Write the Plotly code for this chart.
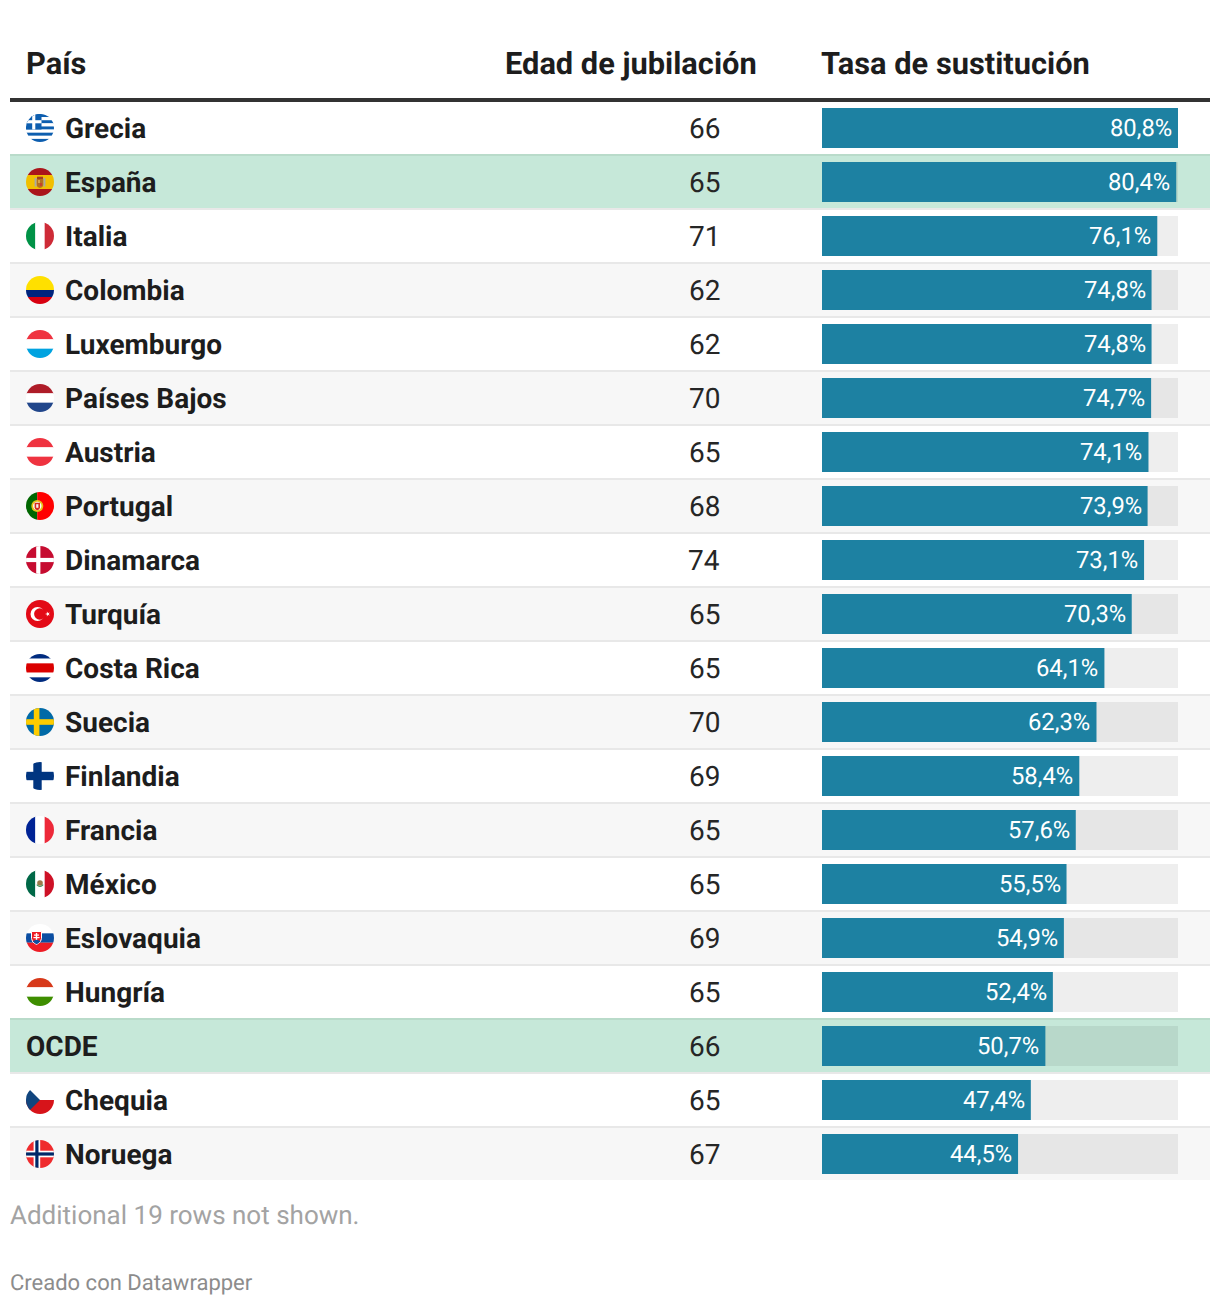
import base64
import plotly.graph_objects as go

paises = ["Grecia", "España", "Italia", "Colombia", "Luxemburgo", "Países Bajos", "Austria",
          "Portugal", "Dinamarca", "Turquía", "Costa Rica", "Suecia", "Finlandia", "Francia",
          "México", "Eslovaquia", "Hungría", "OCDE", "Chequia", "Noruega"]
edad = [66, 65, 71, 62, 62, 70, 65, 68, 74, 65, 65, 70, 69, 65, 65, 69, 65, 66, 65, 67]
tasa = [80.8, 80.4, 76.1, 74.8, 74.8, 74.7, 74.1, 73.9, 73.1, 70.3, 64.1, 62.3, 58.4, 57.6,
        55.5, 54.9, 52.4, 50.7, 47.4, 44.5]
destacados = ["España", "OCDE"]
columnas = ["País", "Edad de jubilación", "Tasa de sustitución"]
nota = "Additional 19 rows not shown."
credito = "Creado con Datawrapper"

W, H = 1220, 1306
FONT = "Roboto, sans-serif"
INK = "#1d1d1d"
ROW_H = 54
TOP = 101


def hstripes(*bands):
    total = sum(b[1] for b in bands)
    y, out = 0, ""
    for color, h in bands:
        hh = h * 28 / total
        out += f'<rect x="0" y="{y:.3f}" width="28" height="{hh + .05:.3f}" fill="{color}"/>'
        y += hh
    return out


def vstripes(*bands):
    total = sum(b[1] for b in bands)
    x, out = 0, ""
    for color, w in bands:
        ww = w * 28 / total
        out += f'<rect x="{x:.3f}" y="0" width="{ww + .05:.3f}" height="28" fill="{color}"/>'
        x += ww
    return out


def cross(bg, fg, vx, vw, hy, hw):
    return (f'<rect width="28" height="28" fill="{bg}"/>'
            f'<rect x="{vx}" y="0" width="{vw}" height="28" fill="{fg}"/>'
            f'<rect x="0" y="{hy}" width="28" height="{hw}" fill="{fg}"/>')


flags = {
    "Grecia": hstripes(*[("#0d5eaf" if k % 2 == 0 else "#ffffff", 1) for k in range(9)])
    + '<rect width="15.5" height="15.5" fill="#0d5eaf"/><rect x="6.2" width="3.1" height="15.5" fill="#fff"/>'
      '<rect y="6.2" width="15.5" height="3.1" fill="#fff"/>',
    "España": hstripes(("#aa151b", 1), ("#f1bf00", 2), ("#aa151b", 1))
    + '<rect x="8.6" y="10" width="2" height="8.5" fill="#a8a8a8"/><rect x="17.4" y="10" width="2" height="8.5" fill="#a8a8a8"/>'
      '<path d="M10.8 11 h6.4 v5.5 q0 3 -3.2 3.5 q-3.2 -.5 -3.2 -3.5 z" fill="#b5701f"/>'
      '<rect x="11" y="8.7" width="6" height="2.3" fill="#a5401d"/>'
      '<rect x="12" y="12" width="2" height="3" fill="#d9a441"/><rect x="14" y="15" width="2" height="3" fill="#c8402a"/>',
    "Italia": vstripes(("#009246", 1), ("#ffffff", 1), ("#ce2b37", 1)),
    "Colombia": hstripes(("#ffe000", 2), ("#00247d", 1), ("#d80010", 1)),
    "Luxemburgo": hstripes(("#ef3340", 1), ("#ffffff", 1), ("#00a3e0", 1)),
    "Países Bajos": hstripes(("#ae1c28", 1), ("#ffffff", 1), ("#21468b", 1)),
    "Austria": hstripes(("#ef3340", 1), ("#ffffff", 1), ("#ef3340", 1)),
    "Portugal": vstripes(("#006600", 2), ("#ff0000", 3))
    + '<circle cx="11.3" cy="14" r="6" fill="#e8c21a"/><circle cx="11.3" cy="14" r="4.2" fill="#fff"/>'
      '<path d="M8.6 10.8 h5.4 v4.4 q0 2.4 -2.7 3 q-2.7 -.6 -2.7 -3 z" fill="#d52b1e"/>'
      '<rect x="10.2" y="12.2" width="2.2" height="3.6" fill="#f2f2f2"/>',
    "Dinamarca": cross("#c60c30", "#ffffff", 10.2, 4.2, 11.9, 4.2),
    "Turquía": '<rect width="28" height="28" fill="#e30a17"/><circle cx="11.5" cy="14" r="7" fill="#fff"/>'
               '<circle cx="13.8" cy="14" r="5.7" fill="#e30a17"/>'
               '<polygon fill="#fff" points="19,14 23.8,12.4 20.9,16.4 20.9,11.6 23.8,15.6"/>',
    "Costa Rica": hstripes(("#002b7f", 1), ("#ffffff", 1), ("#da0000", 2), ("#ffffff", 1), ("#002b7f", 1)),
    "Suecia": cross("#006aa7", "#fecc00", 7.8, 5.6, 11.2, 5.6),
    "Finlandia": cross("#ffffff", "#003580", 7.3, 8.4, 9.8, 8.4),
    "Francia": vstripes(("#002395", 1), ("#ffffff", 1), ("#ed2939", 1)),
    "México": vstripes(("#006847", 1), ("#ffffff", 1), ("#ce1126", 1))
    + '<circle cx="14" cy="13" r="2.8" fill="#9c7b4a"/><path d="M10.8 14.6 q3.2 3.8 6.4 0" stroke="#3f8a4e" stroke-width="1.1" fill="none"/>',
    "Eslovaquia": hstripes(("#ffffff", 1), ("#0b4ea2", 1), ("#ee1c25", 1))
    + '<path d="M5.5 7.5 h10 v7 q0 4 -5 6 q-5 -2 -5 -6 z" fill="#ee1c25" stroke="#fff" stroke-width="1"/>'
      '<rect x="9.8" y="9" width="1.4" height="8" fill="#fff"/><rect x="8" y="10.5" width="5" height="1.2" fill="#fff"/>'
      '<rect x="7.4" y="13" width="6.2" height="1.2" fill="#fff"/><path d="M6.6 17.2 q4 -3 8 0 q-2 2 -4 3 q-2 -1 -4 -3z" fill="#0b4ea2"/>',
    "Hungría": hstripes(("#d7391a", 1), ("#ffffff", 1), ("#3e8e00", 1)),
    "Chequia": hstripes(("#ffffff", 1), ("#d7141a", 1)) + '<polygon points="0,0 14,14 0,28" fill="#11457e"/>',
    "Noruega": cross("#ef2b2d", "#ffffff", 7.6, 6.6, 10.7, 6.6)
    + '<rect x="9.3" width="3.2" height="28" fill="#002868"/><rect y="12.4" width="28" height="3.2" fill="#002868"/>',
}


def flag_uri(body):
    svg = ('<svg xmlns="http://www.w3.org/2000/svg" width="112" height="112" viewBox="0 0 28 28">'
           '<defs><clipPath id="c"><circle cx="14" cy="14" r="14"/></clipPath></defs>'
           f'<g clip-path="url(#c)">{body}</g></svg>')
    return "data:image/svg+xml;base64," + base64.b64encode(svg.encode()).decode()


n = len(paises)
shapes, annotations, images = [], [], []
PX = lambda p: p / W
for i, p in enumerate(paises):
    hi = p in destacados
    fill = "#c6e8d9" if hi else ("#f7f7f7" if i % 2 else "#ffffff")
    shapes.append(dict(type="rect", layer="below", xref="paper", yref="y", x0=PX(10), x1=PX(1210),
                       y0=i - 0.5 + 1 / ROW_H, y1=i - 0.5 + 53 / ROW_H, fillcolor=fill, line_width=0))
    if i < n - 1:
        nxt = paises[i + 1] in destacados
        shapes.append(dict(type="rect", layer="below", xref="paper", yref="y", x0=PX(10), x1=PX(1210),
                           y0=i - 0.5 + 53 / ROW_H, y1=i - 0.5 + 55 / ROW_H,
                           fillcolor="#b9dbca" if nxt else "#e8e8e8", line_width=0))
    if p in flags:
        images.append(dict(source=flag_uri(flags[p]), xref="paper", yref="y", x=PX(26), y=i,
                           sizex=PX(28), sizey=28 / ROW_H, xanchor="left", yanchor="middle",
                           sizing="stretch", layer="above"))
    annotations.append(dict(text=p, xref="paper", yref="y", x=PX(26 if p not in flags else 65), y=i,
                            xanchor="left", yanchor="middle", showarrow=False, borderpad=0, borderwidth=0,
                            font=dict(family=FONT, size=28, color=INK, weight=700)))
    annotations.append(dict(text=str(edad[i]), xref="paper", yref="y", x=PX(720), y=i,
                            xanchor="right", yanchor="middle", showarrow=False, borderpad=0, borderwidth=0,
                            font=dict(family=FONT, size=28, color="#262626")))
    annotations.append(dict(text=f"{tasa[i]:.1f}".replace(".", ",") + "%", xref="x", yref="y", x=tasa[i], y=i,
                            xanchor="right", yanchor="middle", xshift=-6, showarrow=False, borderpad=0,
                            borderwidth=0, font=dict(family=FONT, size=23.8, color="#ffffff")))

shapes.append(dict(type="rect", xref="paper", yref="paper", x0=PX(10), x1=PX(1210),
                   y0=1 - 102 / H, y1=1 - 98 / H, fillcolor="#333333", line_width=0))

for txt, x, anchor in zip(columnas, [26, 757, 821], ["left", "right", "left"]):
    annotations.append(dict(text=txt, xref="paper", yref="paper", x=PX(x), y=1 - 63.4 / H, xanchor=anchor,
                            yanchor="middle", showarrow=False, borderpad=0, borderwidth=0,
                            font=dict(family=FONT, size=30.8, color=INK, weight=700)))
annotations.append(dict(text=nota, xref="paper", yref="paper", x=PX(10), y=1 - 1215 / H, xanchor="left",
                        yanchor="middle", showarrow=False, borderpad=0, borderwidth=0,
                        font=dict(family=FONT, size=26, color="#a3a3a3")))
annotations.append(dict(text=credito, xref="paper", yref="paper", x=PX(10), y=1 - 1282 / H, xanchor="left",
                        yanchor="middle", showarrow=False, borderpad=0, borderwidth=0,
                        font=dict(family=FONT, size=22, color="#8c8c8c")))

y_idx = list(range(n))
fig = go.Figure()
fig.add_bar(y=y_idx, x=[max(tasa)] * n, orientation="h", marker=dict(color="rgba(0,0,0,0.065)", line_width=0),
            hoverinfo="skip", showlegend=False)
fig.add_bar(y=y_idx, x=tasa, orientation="h", marker=dict(color="#1d81a2", line_width=0),
            hoverinfo="skip", showlegend=False)
fig.update_layout(
    width=W, height=H, margin=dict(l=0, r=0, t=0, b=0, pad=0), autosize=False,
    paper_bgcolor="#ffffff", plot_bgcolor="rgba(0,0,0,0)", barmode="overlay", bargap=14 / ROW_H,
    showlegend=False, shapes=shapes, annotations=annotations, images=images,
    xaxis=dict(domain=[822 / W, 1178 / W], range=[0, max(tasa)], visible=False, fixedrange=True),
    yaxis=dict(domain=[1 - (TOP + n * ROW_H) / H, 1 - TOP / H], range=[n - 0.5, -0.5], visible=False, fixedrange=True),
)
fig.write_html("out.html", config={"displayModeBar": False},
               post_script="document.body.style.margin='0';document.body.style.overflow='hidden';"
                           "document.body.style.textRendering='geometricPrecision';"
                           "var gd=document.getElementById('{plot_id}');Plotly.react(gd,gd.data,gd.layout);")
